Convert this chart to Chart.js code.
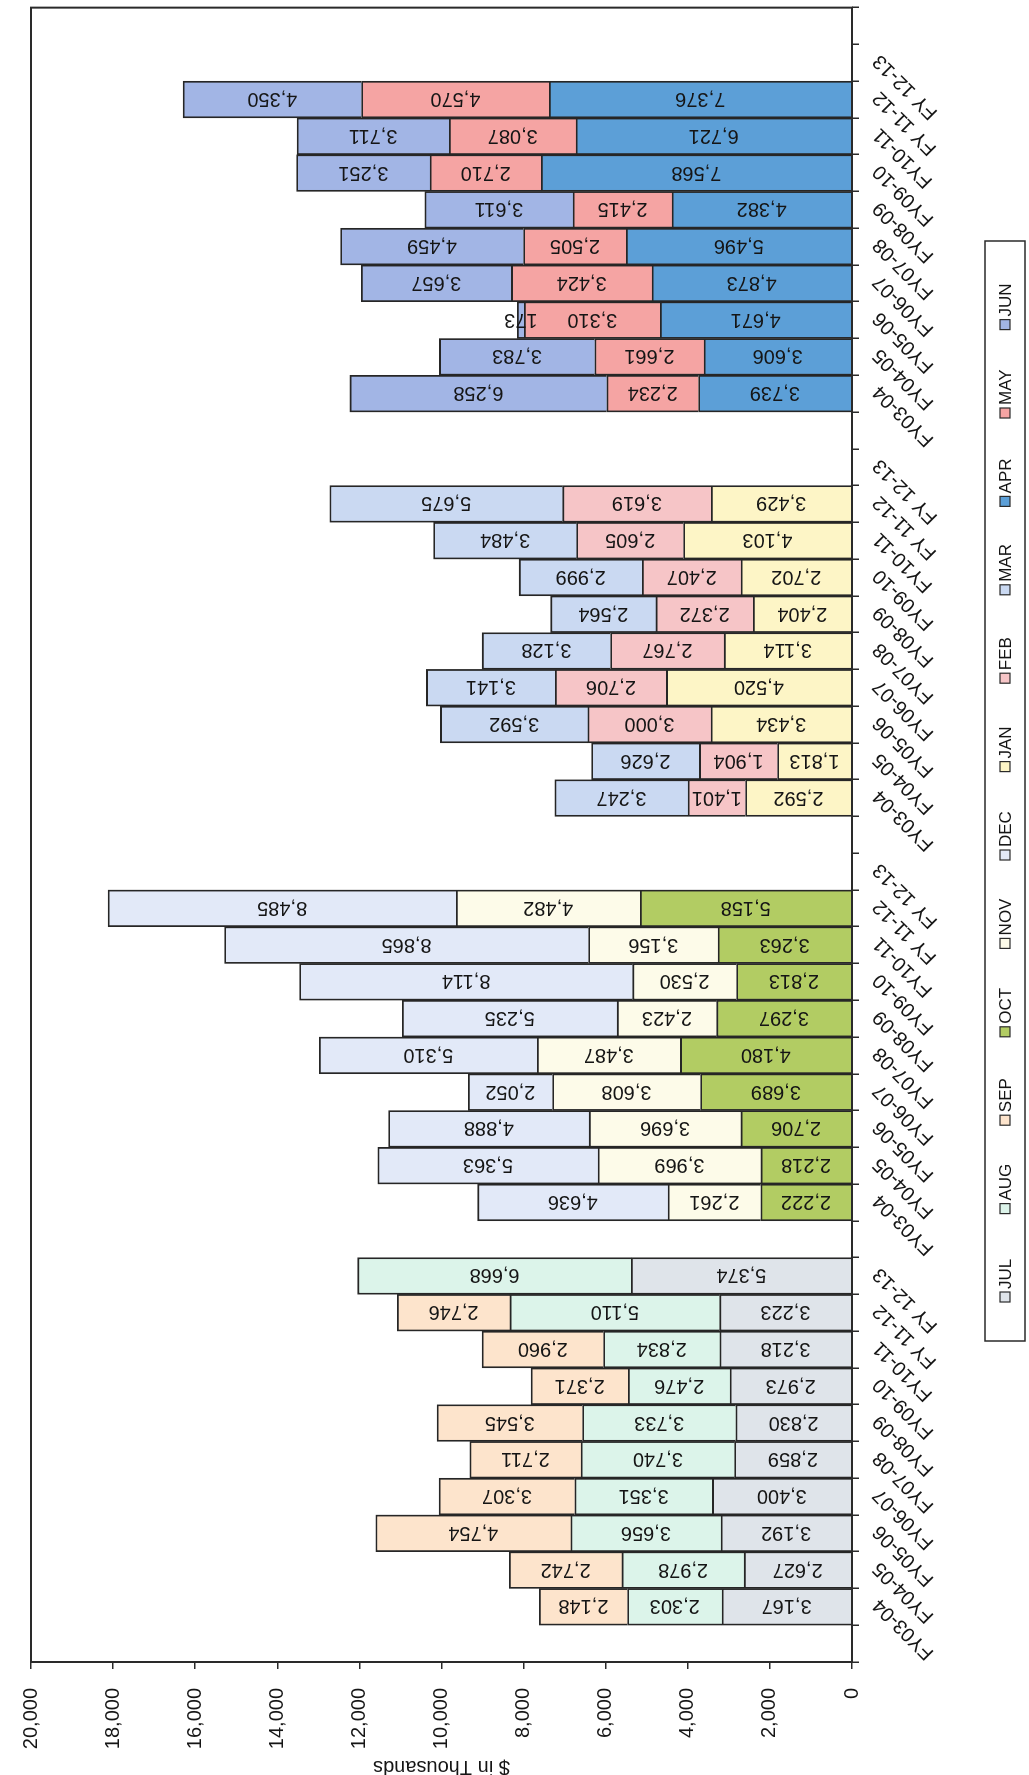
<!DOCTYPE html>
<html>
<head>
<meta charset="utf-8">
<script src="https://cdn.jsdelivr.net/npm/chart.js@4.4.1/dist/chart.umd.min.js"></script>
<style>
  html, body { margin: 0; padding: 0; background: #fff; width: 1029px; height: 1775px; overflow: hidden; }
  /* The chart is laid out landscape and turned a quarter turn counter-clockwise onto the portrait page. */
  #wrap { position: absolute; left: 0; top: 0; width: 1775px; height: 1029px;
          transform-origin: 0 0; transform: translateY(1775px) rotate(-90deg); }
  canvas { display: block; }
</style>
</head>
<body>
<div id="wrap"><canvas id="chart" width="1775" height="1029"></canvas></div>
<script>
// Fiscal years shown under each quarter block
const fiscalYears = ['FY03-04', 'FY04-05', 'FY05-06', 'FY06-07', 'FY07-08', 'FY08-09', 'FY09-10', 'FY10-11', 'FY 11-12', 'FY 12-13'];
const monthNames = ['JUL', 'AUG', 'SEP', 'OCT', 'NOV', 'DEC', 'JAN', 'FEB', 'MAR', 'APR', 'MAY', 'JUN'];
const valueTicks = [0, 2000, 4000, 6000, 8000, 10000, 12000, 14000, 16000, 18000, 20000];

// Monthly amounts ($ thousands), FY03-04 .. FY12-13
const jul = [3167, 2627, 3192, 3400, 2859, 2830, 2973, 3218, 3223, 5374];
const aug = [2303, 2978, 3656, 3351, 3740, 3733, 2476, 2834, 5110, 6668];
const sep = [2148, 2742, 4754, 3307, 2711, 3545, 2371, 2960, 2746, null];
const oct = [2222, 2218, 2706, 3689, 4180, 3297, 2813, 3263, 5158, null];
const nov = [2261, 3969, 3696, 3608, 3487, 2423, 2530, 3156, 4482, null];
const dec = [4636, 5363, 4888, 2052, 5310, 5235, 8114, 8865, 8485, null];
const jan = [2592, 1813, 3434, 4520, 3114, 2404, 2702, 4103, 3429, null];
const feb = [1401, 1904, 3000, 2706, 2767, 2372, 2407, 2605, 3619, null];
const mar = [3247, 2626, 3592, 3141, 3128, 2564, 2999, 3484, 5675, null];
const apr = [3739, 3606, 4671, 4873, 5496, 4382, 7568, 6721, 7376, null];
const may = [2234, 2661, 3310, 3424, 2505, 2415, 2710, 3087, 4570, null];
const jun = [6258, 3783, 173, 3657, 4459, 3611, 3251, 3711, 4350, null];

const monthSeries = [jul, aug, sep, oct, nov, dec, jan, feb, mar, apr, may, jun];
const monthColors = ['#dfe4ea', '#dcf4ea', '#fde4cc', '#b2cc63', '#fdfbe9', '#e2e9f8',
                     '#fdf5c6', '#f6c5c7', '#cad9f2', '#5c9fd7', '#f5a4a3', '#a2b5e5'];

// Category axis: one blank slot before every quarter block, plus one at the end
const categories = [];
for (let q = 0; q < 4; q++) { categories.push(''); fiscalYears.forEach(fy => categories.push(fy)); }
categories.push('');

const datasets = monthSeries.map((vals, m) => {
  const quarter = Math.floor(m / 3);
  const data = categories.map(() => null);
  vals.forEach((v, i) => { data[quarter * 11 + 1 + i] = v; });
  return {
    label: monthNames[m], data,
    backgroundColor: monthColors[m], borderColor: '#262626', borderWidth: 1.8,
    categoryPercentage: 1.0, barPercentage: 1.0, stack: 'months'
  };
});

const FONT = "'Liberation Sans', Arial, sans-serif";
const INK = '#151515';
const fmt = v => Number(v).toLocaleString('en-US');

// Plot frame around the whole plot area
const frame = {
  id: 'frame',
  afterDatasetsDraw(chart) {
    const { ctx, chartArea: a } = chart;
    ctx.save();
    ctx.strokeStyle = '#2a2a2a';
    ctx.lineWidth = 2;
    ctx.strokeRect(a.left, a.top, a.right - a.left, a.bottom - a.top);
    ctx.restore();
  }
};

// Value written inside every bar segment, turned to run along the column
const barValues = {
  id: 'barValues',
  afterDatasetsDraw(chart) {
    const { ctx } = chart;
    ctx.save();
    ctx.font = '20px ' + FONT;
    ctx.fillStyle = INK;
    ctx.textAlign = 'center';
    ctx.textBaseline = 'middle';
    chart.data.datasets.forEach((ds, di) => {
      chart.getDatasetMeta(di).data.forEach((bar, i) => {
        const v = ds.data[i];
        if (v === null || v === undefined) return;
        const cy = (bar.y + bar.base) / 2;
        ctx.save();
        ctx.translate(bar.x, cy);
        ctx.rotate(-Math.PI / 2);
        ctx.fillText(fmt(v), 0, 1);
        ctx.restore();
      });
    });
    ctx.restore();
  }
};

// Boxed legend row under the category labels
const boxedLegend = {
  id: 'boxedLegend',
  afterDraw(chart) {
    const { ctx } = chart;
    const box = { left: 434, top: 985, right: 1534, bottom: 1025 };
    const firstItem = 473, step = 88.4, sq = 10, midY = (box.top + box.bottom) / 2;
    ctx.save();
    ctx.strokeStyle = '#2a2a2a';
    ctx.lineWidth = 1.5;
    ctx.strokeRect(box.left, box.top, box.right - box.left, box.bottom - box.top);
    ctx.font = '17px ' + FONT;
    ctx.textAlign = 'left';
    ctx.textBaseline = 'middle';
    chart.data.datasets.forEach((ds, i) => {
      const x = firstItem + i * step;
      ctx.fillStyle = ds.backgroundColor;
      ctx.fillRect(x, midY - sq / 2, sq, sq);
      ctx.lineWidth = 1.2;
      ctx.strokeStyle = '#2a2a2a';
      ctx.strokeRect(x, midY - sq / 2, sq, sq);
      ctx.fillStyle = INK;
      ctx.fillText(ds.label, x + sq + 3, midY + 1);
    });
    ctx.restore();
  }
};

new Chart(document.getElementById('chart'), {
  type: 'bar',
  data: { labels: categories, datasets },
  plugins: [frame, barValues, boxedLegend],
  options: {
    responsive: false,
    animation: false,
    devicePixelRatio: 1,
    layout: { padding: { left: 0, right: 4, top: 20, bottom: 0 } },
    plugins: { legend: { display: false }, tooltip: { enabled: false } },
    scales: {
      x: {
        stacked: true,
        offset: true,
        border: { display: false },
        grid: { offset: true, drawOnChartArea: false, drawTicks: true, tickLength: 7, color: '#2a2a2a', lineWidth: 1.5 },
        ticks: { autoSkip: false, minRotation: 45, maxRotation: 45, padding: 9, labelOffset: 5, color: INK,
                 font: { family: FONT, size: 20 } },
        afterFit(scale) { scale.height = 177; }
      },
      y: {
        stacked: true,
        min: valueTicks[0],
        max: valueTicks[valueTicks.length - 1],
        border: { display: false },
        grid: { drawOnChartArea: false, drawTicks: true, tickLength: 7, color: '#2a2a2a', lineWidth: 1.5 },
        afterBuildTicks(scale) { scale.ticks = valueTicks.map(v => ({ value: v })); },
        ticks: { padding: 19, color: INK, font: { family: FONT, size: 20 }, callback: v => fmt(v) },
        title: { display: true, text: '$ in Thousands', color: INK, padding: 0,
                 font: { family: FONT, size: 20, lineHeight: 0.8 } },
        afterFit(scale) { scale.width = 113; }
      }
    }
  }
});
</script>
</body>
</html>
